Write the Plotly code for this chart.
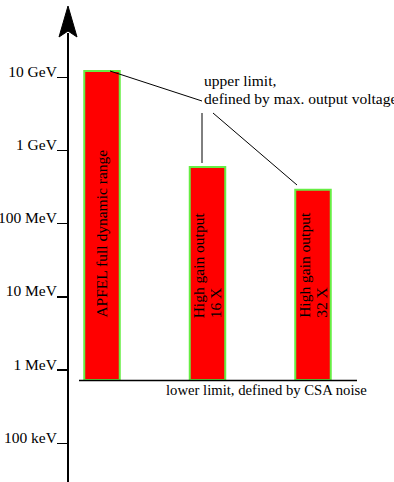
import math
import plotly.graph_objects as go

W, H = 394, 482
FONT = "Liberation Serif"
FS = 15.5

# Energy scale (MeV) and its labels
tick_values = [0.1, 1, 10, 100, 1000, 10000]
tick_labels = ["100 keV", "1 MeV", "10 MeV", "100 MeV", "1 GeV", "10 GeV"]

# Readout paths and their energy ranges (MeV)
outputs = ["APFEL", "HG16", "HG32"]
upper_mev = [12200, 595, 290]
lower_mev = [0.73, 0.73, 0.73]
bar_text = [
    ["APFEL full dynamic range"],
    ["High gain output", "16 X"],
    ["High gain output", "32 X"],
]

upper_note = ["upper limit,", "defined by max. output voltage"]
lower_note = "lower limit, defined by CSA noise"

UNIT = 105.5  # px per category step


def px(x):
    return x / W


def py(y):
    return 1 - y / H


fig = go.Figure()
fig.add_trace(go.Bar(
    x=outputs,
    y=[u - l for u, l in zip(upper_mev, lower_mev)],
    base=lower_mev,
    width=35.5 / UNIT,
    marker=dict(color="#ff0000", line=dict(color="#66ee44", width=2)),
    hoverinfo="skip",
))

annotations = []
# vertical labels inside the bars, starting near the bottom
for name, low, lines in zip(outputs, lower_mev, bar_text):
    n = len(lines)
    for j, t in enumerate(lines):
        annotations.append(dict(
            x=name, xref="x", y=math.log10(low), yref="y",
            text=t, textangle=-90, showarrow=False,
            xanchor="center", yanchor="bottom",
            xshift=(j - (n - 1) / 2) * 17.5 - 0.5, yshift=60,
            font=dict(family=FONT, size=FS, color="black"),
        ))

for k, t in enumerate(upper_note):
    annotations.append(dict(
        x=px(202), xref="paper", y=py(80.8 + 18 * k), yref="paper",
        text=t, showarrow=False, xanchor="left", yanchor="middle",
        font=dict(family=FONT, size=FS, color="black"),
    ))

annotations.append(dict(
    x=px(164), xref="paper", y=py(390), yref="paper",
    text=lower_note, showarrow=False, xanchor="left", yanchor="middle",
    font=dict(family=FONT, size=14.7, color="black"),
))

line_style = dict(color="black", width=1)
shapes = [
    # callout lines to the upper limits
    dict(type="line", xref="paper", yref="paper",
         x0=px(110), y0=py(71), x1=px(202), y1=py(101), line=line_style),
    dict(type="line", xref="paper", yref="paper",
         x0=px(202), y0=py(113), x1=px(202), y1=py(163), line=line_style),
    dict(type="line", xref="paper", yref="paper",
         x0=px(213), y0=py(113), x1=px(297), y1=py(185), line=line_style),
    # common lower limit
    dict(type="line", xref="paper", yref="paper",
         x0=px(79), y0=py(380.5), x1=px(357), y1=py(380.5),
         line=dict(color="black", width=1.5)),
    # arrow head on the energy axis
    dict(type="path", xref="paper", yref="paper",
         path=f"M {px(68)},{py(6)} L {px(59)},{py(37)} L {px(68)},{py(31)} L {px(77)},{py(37)} Z",
         fillcolor="black", line=dict(color="black", width=1)),
]

fig.update_layout(
    width=W, height=H,
    margin=dict(l=0, r=0, t=0, b=0, autoexpand=False),
    paper_bgcolor="white", plot_bgcolor="white",
    showlegend=False,
    font=dict(family=FONT, size=FS, color="black"),
    xaxis=dict(
        type="category", domain=[0, 1],
        range=[-102 / UNIT, (W - 102) / UNIT],
        visible=False, fixedrange=True, automargin=False,
    ),
    yaxis=dict(
        type="log", domain=[0, py(33)],
        range=[-1.529, 4.605],
        anchor="free", position=px(68),
        showgrid=False, zeroline=False,
        showline=True, linecolor="black", linewidth=2,
        ticks="outside", ticklen=10, tickwidth=1.5, tickcolor="black",
        tickvals=tick_values, ticktext=tick_labels,
        tickfont=dict(family=FONT, size=FS, color="black"),
        ticklabelshift=-6, ticklabelstandoff=-3,
        fixedrange=True, automargin=False,
    ),
    annotations=annotations,
    shapes=shapes,
)

fig.write_html("out.html", config={"displayModeBar": False, "staticPlot": True})
